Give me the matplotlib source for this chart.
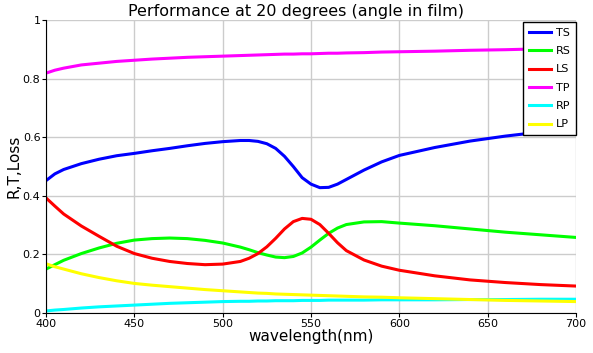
import matplotlib
matplotlib.use("Agg")
import matplotlib.pyplot as plt
from matplotlib.ticker import FormatStrFormatter

wl = [400, 405, 410, 420, 430, 440, 450, 460, 470, 480, 490, 500, 510, 515,
      520, 525, 530, 535, 540, 545, 550, 555, 560, 565, 570, 580, 590, 600,
      620, 640, 660, 680, 700]

TS = [0.452, 0.475, 0.490, 0.510, 0.525, 0.537, 0.545, 0.554, 0.562, 0.571,
      0.579, 0.585, 0.589, 0.589, 0.586, 0.578, 0.562, 0.535, 0.500, 0.462,
      0.440, 0.428, 0.429, 0.440, 0.456, 0.488, 0.516, 0.538, 0.565, 0.587,
      0.604, 0.618, 0.632]
RS = [0.150, 0.165, 0.180, 0.203, 0.222, 0.238, 0.249, 0.254, 0.256, 0.254,
      0.248, 0.239, 0.225, 0.216, 0.206, 0.198, 0.191, 0.189, 0.193, 0.205,
      0.225, 0.249, 0.272, 0.290, 0.302, 0.311, 0.312, 0.307, 0.298, 0.287,
      0.276, 0.267, 0.258]
LS = [0.393, 0.365, 0.338, 0.297, 0.262, 0.228, 0.203, 0.187, 0.176, 0.169,
      0.165, 0.167, 0.176, 0.187, 0.203, 0.226, 0.255, 0.287, 0.312, 0.323,
      0.320, 0.302, 0.272, 0.240, 0.213, 0.181, 0.160, 0.146, 0.127, 0.113,
      0.104, 0.097, 0.092]
TP = [0.819, 0.829, 0.836, 0.847, 0.853, 0.859, 0.863, 0.867, 0.870, 0.873,
      0.875, 0.877, 0.879, 0.880, 0.881, 0.882, 0.883, 0.884, 0.884, 0.885,
      0.885, 0.886, 0.887, 0.887, 0.888, 0.889, 0.891, 0.892, 0.894, 0.897,
      0.899, 0.902, 0.905]
RP = [0.007, 0.010, 0.012, 0.017, 0.021, 0.024, 0.027, 0.030, 0.033, 0.035,
      0.037, 0.039, 0.040, 0.040, 0.041, 0.041, 0.042, 0.042, 0.042, 0.043,
      0.043, 0.043, 0.044, 0.044, 0.044, 0.044, 0.045, 0.045, 0.045, 0.046,
      0.046, 0.047, 0.047]
LP = [0.168, 0.158, 0.150, 0.134, 0.121, 0.110, 0.101, 0.095, 0.090, 0.085,
      0.080, 0.076, 0.072, 0.070, 0.068, 0.067, 0.065, 0.064, 0.063, 0.062,
      0.061, 0.060, 0.059, 0.058, 0.057, 0.055, 0.054, 0.052, 0.049, 0.046,
      0.043, 0.041, 0.039]

series = [("TS", TS, "#0000ff"), ("RS", RS, "#00ff00"), ("LS", LS, "#ff0000"),
          ("TP", TP, "#ff00ff"), ("RP", RP, "#00ffff"), ("LP", LP, "#ffff00")]

fig = plt.figure(figsize=(5.93, 3.53), dpi=100)
ax = fig.add_axes([0.0776, 0.1133, 0.8937, 0.8297])

for name, vals, col in series:
    ax.plot(wl, vals, color=col, lw=2.2, label=name)

ax.set_xlim(400, 700)
ax.set_ylim(0, 1)
ax.set_xticks([400, 450, 500, 550, 600, 650, 700])
ax.set_yticks([0, 0.2, 0.4, 0.6, 0.8, 1])
ax.yaxis.set_major_formatter(FormatStrFormatter("%g"))
ax.grid(True, color="#cccccc", lw=1)
ax.set_axisbelow(True)
ax.spines["top"].set_visible(False)
ax.spines["right"].set_visible(False)
ax.tick_params(labelsize=8, length=3, pad=1)

# title sits on the figure centre, not the axes centre
ax.set_title("Performance at 20 degrees (angle in film)", fontsize=11.5,
             pad=3, x=0.4726)
ax.set_xlabel("wavelength(nm)", fontsize=11, labelpad=0)
ax.set_ylabel("R,T,Loss", fontsize=11, labelpad=1)

leg = ax.legend(loc="upper right", fontsize=8, fancybox=False,
                framealpha=1, edgecolor="black", handlelength=2.0,
                borderaxespad=0, labelspacing=0.75, handletextpad=0.4,
                borderpad=0.5, bbox_to_anchor=(1.0, 0.993))
leg.get_frame().set_linewidth(1)

fig.savefig("out.png", dpi=100)
